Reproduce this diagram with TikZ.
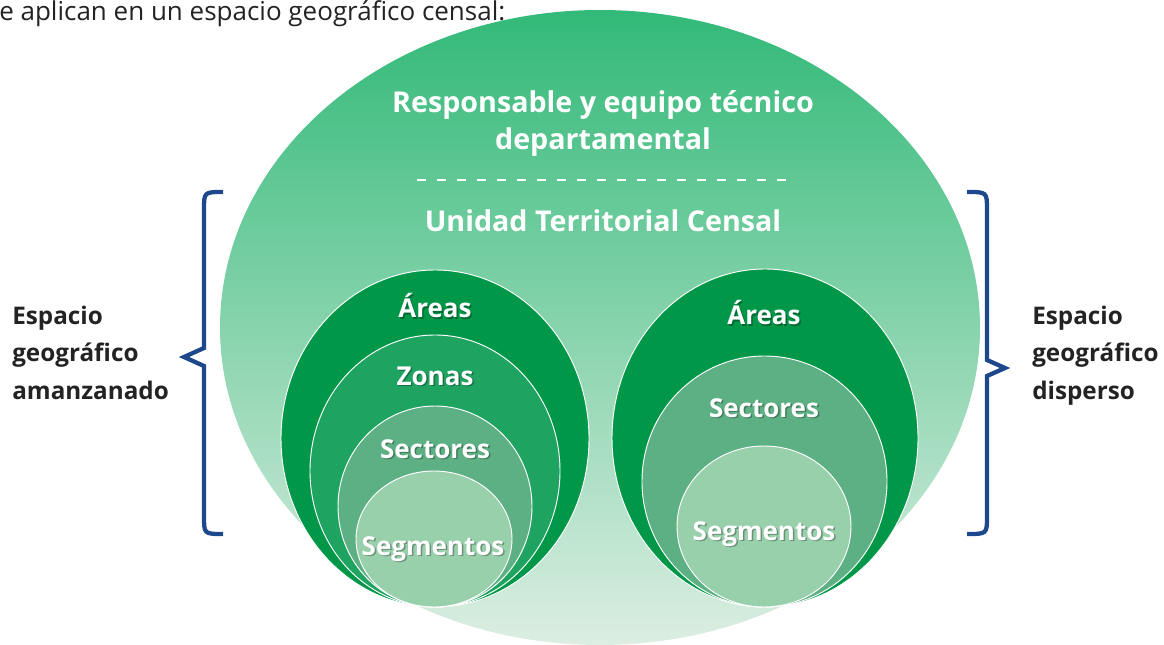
\documentclass[tikz,border=0pt]{standalone}
\usepackage{fontspec}
\setmainfont{Open Sans}
\usetikzlibrary{positioning}
\definecolor{gTop}{RGB}{50,185,120}
\definecolor{gMid}{RGB}{118,202,152}
\definecolor{gBot}{RGB}{220,238,226}
\definecolor{areaG}{RGB}{0,152,72}
\definecolor{zonaG}{RGB}{30,163,97}
\definecolor{sectG}{RGB}{93,176,131}
\definecolor{segG}{RGB}{153,208,172}
\definecolor{braceB}{RGB}{30,72,140}
\definecolor{txtD}{RGB}{35,35,35}
\tikzset{
  ring/.style={draw=white, line width=0.7pt, fill=#1},
  head/.style={anchor=base, text=white, inner sep=0pt, font=\bfseries\fontsize{21.5}{26}\selectfont},
  lbl/.style={anchor=base, text=white, inner sep=0pt, font=\bfseries\fontsize{19.5}{24}\selectfont},
  lblsh/.style={lbl, text=black, opacity=0.3},
  side/.style={anchor=base west, align=left, text=txtD, inner sep=0pt, font=\bfseries\fontsize{18.2}{28}\selectfont},
  curly/.style={draw=braceB, line width=3.2pt, line join=miter}
}
\begin{document}
\begin{tikzpicture}[x=0.75pt, y=-0.75pt]
  \useasboundingbox (0,0) rectangle (1164,645);
  % census space
  \shade[top color=gTop, middle color=gMid, bottom color=gBot] (600,327.5) ellipse [x radius=380, y radius=317.5];
  \node[anchor=base west, inner sep=0pt, text=txtD, font=\fontsize{19.5}{23}\selectfont] (intro) at (-1,21) {e aplican en un espacio geográfico censal:};
  \node[head] (resp1) at (603,113) {Responsable y equipo técnico};
  \node[head] (resp2) at (603,150) {departamental};
  \coordinate (dashL) at (417,180);
  \coordinate (dashR) at (793,180);
  \draw[white, line width=0.8pt, dash pattern=on 7pt off 8pt] (dashL) -- (dashR);
  \node[head] (utc) at (603,232) {Unidad Territorial Censal};

  % left: amanzanado
  \draw[ring=areaG] (435,438.5) ellipse [x radius=154, y radius=168.5];
  \draw[ring=zonaG] (435,471) ellipse [x radius=125, y radius=136];
  \draw[ring=sectG] (435,506.5) ellipse [x radius=97, y radius=100.5];
  \draw[ring=segG] (434,539) ellipse [x radius=78, y radius=68];
  % right: disperso
  \draw[ring=areaG] (765,438) ellipse [x radius=153, y radius=169];
  \draw[ring=sectG] (764.5,481.5) ellipse [x radius=122.5, y radius=125.5];
  \draw[ring=segG] (764,526.5) ellipse [x radius=87, y radius=80.5];

  \foreach \px/\py/\nm/\tx in {435/318/areaL/Áreas, 435/385/zonaL/Zonas, 435/458/sectL/Sectores, 433/555/segL/Segmentos,
                               764/325/areaR/Áreas, 764/417/sectR/Sectores, 764/540/segR/Segmentos}{
    \node[lblsh] (\nm-sh) at ({\px+1.5},{\py+1.5}) {\tx};
    \node[lbl] (\nm) at (\px,\py) {\tx};
  }

  % braces
  \draw[curly] (223,192) .. controls (204,192) .. (204,210) -- (204,348) -- (184,357) -- (204,366) -- (204,516) .. controls (204,534) .. (223,534);
  \draw[curly] (967,192) .. controls (987,192) .. (987,210) -- (987,360) -- (1005,368) -- (987,376) -- (987,516) .. controls (987,534) .. (967,534);
  \node[side] (amanz) at (12,399) {Espacio\\geográfico\\amanzanado};
  \node[side] (dispe) at (1032,399) {Espacio\\geográfico\\disperso};
\end{tikzpicture}
\end{document}
